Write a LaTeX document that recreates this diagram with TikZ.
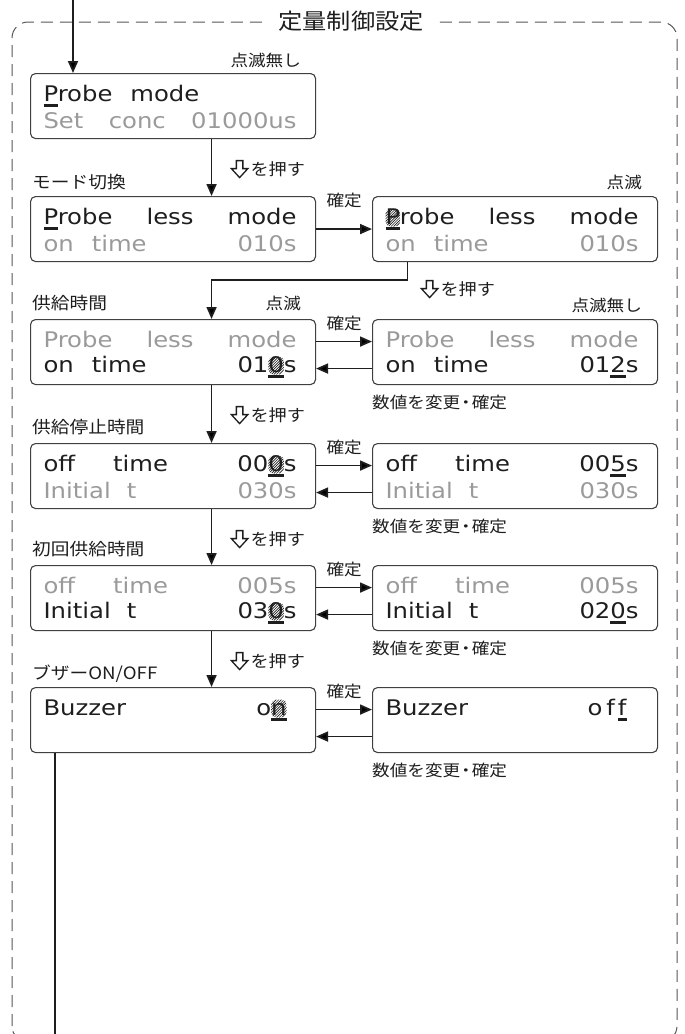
\documentclass[tikz,border=0pt]{standalone}
\usepackage{fontspec}
\usetikzlibrary{calc,positioning,arrows.meta}

\newfontfamily\lcdfont{DejaVu Sans}[FakeStretch=1.13]
\newfontfamily\jpfont{Noto Sans CJK JP}[FakeStretch=1.1]

\definecolor{ink}{HTML}{1E1E1E}
\definecolor{dimtext}{HTML}{9A9A9A}

\newbox\glyphbox
% one line of the display
\newcommand{\lcdrow}[1]{\hbox to 255pt{\vrule height 21pt depth 3pt width 0pt\kern-2pt #1\kern 4pt}}
\newcommand{\dimrow}[1]{\lcdrow{\color{dimtext}#1}}
% cursor under a character
\newcommand{\curs}[1]{\setbox\glyphbox\hbox{#1}\rlap{\rule[-5pt]{\wd\glyphbox}{3pt}}#1}
% blinking character: hatched cell over the cursor
\newcommand{\blink}[1]{\setbox\glyphbox\hbox{#1}\rlap{\begin{pgfpicture}\pgfsetbaseline{0pt}%
  \pgfpathrectangle{\pgfpoint{0pt}{-2pt}}{\pgfpoint{\wd\glyphbox}{18pt}}\pgfusepath{use as bounding box}%
  \pgfpathrectangle{\pgfpoint{0pt}{-2pt}}{\pgfpoint{\wd\glyphbox}{18pt}}\pgfusepath{clip}%
  \pgfsetlinewidth{0.65pt}\pgfsetstrokecolor{ink}%
  \foreach \k in {-18,-15.4,...,20}{\pgfpathmoveto{\pgfpoint{\k pt}{-2pt}}\pgfpathlineto{\pgfpoint{\k pt+18pt}{16pt}}\pgfusepath{stroke}}%
  \end{pgfpicture}}\curs{#1}}
% outlined down key
\newcommand{\downkey}{\begin{pgfpicture}\pgfsetbaseline{0pt}%
  \pgfsetlinewidth{1.3pt}\pgfsetstrokecolor{ink}\pgfsetmiterjoin
  \pgfpathmoveto{\pgfpoint{5pt}{15pt}}\pgfpathlineto{\pgfpoint{11.5pt}{15pt}}\pgfpathlineto{\pgfpoint{11.5pt}{7pt}}%
  \pgfpathlineto{\pgfpoint{16.5pt}{7pt}}\pgfpathlineto{\pgfpoint{8.25pt}{-2pt}}\pgfpathlineto{\pgfpoint{0pt}{7pt}}%
  \pgfpathlineto{\pgfpoint{5pt}{7pt}}\pgfpathclose\pgfusepath{stroke}\end{pgfpicture}}
\newcommand{\push}{\downkey\hspace{2pt}{\fontsize{16.5}{18}\selectfont を押す}}

\tikzset{
  panel/.style={draw=ink!85, line width=1.1pt, rounded corners=5pt, minimum width=285pt, minimum height=63pt,
    inner xsep=15pt, inner ysep=7pt, anchor=north west, align=left, text=ink,
    font=\lcdfont\fontsize{21.5}{25}\selectfont},
  note/.style={font=\jpfont\fontsize{16}{18}\selectfont, text=ink, inner sep=0pt},
  item/.style={note, anchor=west, font=\jpfont\fontsize{17}{19}\selectfont},
  flow/.style={draw=ink, line width=1.8pt, -{Triangle[length=12pt,width=10pt]}},
  frame/.style={draw=ink!75, line width=1pt, dash pattern=on 12pt off 7pt, rounded corners=16pt},
}

\begin{document}
\begin{tikzpicture}[x=1pt,y=1pt]
	\useasboundingbox (0,0) rectangle (685,-1034);
	\clip (0,0) rectangle (685,-1034);

	\draw[frame] (12,-1042) rectangle (677,-22);
	\node[fill=white, inner xsep=12pt, inner ysep=2pt, text=ink, font=\jpfont\fontsize{22}{24}\selectfont] (title) at (351,-21) {定量制御設定};

	% left column
	\node[panel] (mode) at (30,-73) {\lcdrow{\curs{P}robe\hspace{18pt}mode\hfill}\\\dimrow{Set\hfill conc\hfill 01000us}};
	\node[panel] (switch) at (30,-196) {\lcdrow{\curs{P}robe\hfill less\hfill mode}\\\dimrow{on\hspace{18pt}time\hfill 010s}};
	\node[panel] (ontime) at (30,-319) {\dimrow{Probe\hfill less\hfill mode}\\\lcdrow{on\hspace{18pt}time\hfill 01\blink{0}s}};
	\node[panel] (offtime) at (30,-443) {\lcdrow{off\hspace{38pt}time\hfill 00\blink{0}s}\\\dimrow{Initial\hspace{16pt}t\hfill 030s}};
	\node[panel] (initial) at (30,-565) {\dimrow{off\hspace{38pt}time\hfill 005s}\\\lcdrow{Initial\hspace{16pt}t\hfill 03\blink{0}s}};
	\node[panel] (buzzer) at (30,-687) {\lcdrow{Buzzer\hfill o\blink{n}\hspace{10pt}}\\\lcdrow{}};

	% right column
	\node[panel] (switchset) at (372,-196) {\lcdrow{\blink{P}robe\hfill less\hfill mode}\\\dimrow{on\hspace{18pt}time\hfill 010s}};
	\node[panel] (ontimeset) at (372,-319) {\dimrow{Probe\hfill less\hfill mode}\\\lcdrow{on\hspace{18pt}time\hfill 01\curs{2}s}};
	\node[panel] (offtimeset) at (372,-443) {\lcdrow{off\hspace{38pt}time\hfill 00\curs{5}s}\\\dimrow{Initial\hspace{16pt}t\hfill 030s}};
	\node[panel] (initialset) at (372,-565) {\dimrow{off\hspace{38pt}time\hfill 005s}\\\lcdrow{Initial\hspace{16pt}t\hfill 02\curs{0}s}};
	\node[panel] (buzzerset) at (372,-687) {\lcdrow{Buzzer\hfill o\hspace{4pt}f\hspace{3pt}\curs{f}\hspace{12pt}}\\\lcdrow{}};

	% item names
	\node[item] (lswitch) at ($(switch.north west)+(2,14)$) {モード切換};
	\node[item] (lontime) at ($(ontime.north west)+(2,16)$) {供給時間};
	\node[item] (lofftime) at ($(offtime.north west)+(2,16)$) {供給停止時間};
	\node[item] (linitial) at ($(initial.north west)+(2,16)$) {初回供給時間};
	\node[item] (lbuzzer) at ($(buzzer.north west)+(2,13)$) {ブザーON/OFF};

	% blink notes
	\node[note, anchor=east] (bmode) at ($(mode.north east)+(-15,13)$) {点滅無し};
	\node[note, anchor=east] (bswitchset) at ($(switchset.north east)+(-16,14)$) {点滅};
	\node[note, anchor=east] (bontime) at ($(ontime.north east)+(-15,16)$) {点滅};
	\node[note, anchor=east] (bontimeset) at ($(ontimeset.north east)+(-16,14)$) {点滅無し};

	% entry and exit
	\coordinate (entry) at (73,0);
	\coordinate (exit) at (55,-1040);
	\draw[flow] (entry) -- (entry |- mode.north);
	\draw[draw=ink, line width=1.8pt] (exit |- buzzer.south) -- (exit);

	% down the left column
	\draw[flow] ([xshift=38.5pt]mode.south) -- ([xshift=38.5pt]switch.north);
	\draw[flow] ([xshift=-107.5pt]switchset.south) -- ++(0,-18) -| ([xshift=38.5pt]ontime.north);
	\foreach \a/\b in {ontime/offtime,offtime/initial,initial/buzzer}
		\draw[flow] ([xshift=38.5pt]\a.south) -- ([xshift=38.5pt]\b.north);

	\node[note, anchor=west] (pmode) at ($(mode.south)+(57,-30)$) {\push};
	\node[note, anchor=west] (pswitch) at ($(switchset.south)+(-95,-27)$) {\push};
	\foreach \a in {ontime,offtime,initial}
		\node[note, anchor=west] (p\a) at ($(\a.south)+(57,-30)$) {\push};

	% set and back
	\draw[flow] (switch.east) -- (switchset.west);
	\node[note] (cswitch) at ($(switch.north east)+(28,-4)$) {確定};
	\foreach \a in {ontime,offtime,initial,buzzer}
	{
		\draw[flow] ([yshift=10.5pt]\a.east) -- ([yshift=10.5pt]\a set.west);
		\draw[flow] ([yshift=-16.5pt]\a set.west) -- ([yshift=-16.5pt]\a.east);
		\node[note] (c\a) at ($(\a.north east)+(28,-4)$) {確定};
		\node[note, anchor=west] (n\a) at ($(\a set.south west)+(0,-17)$) {数値を変更\kern-3pt・\kern-3pt確定};
	}
\end{tikzpicture}
\end{document}
